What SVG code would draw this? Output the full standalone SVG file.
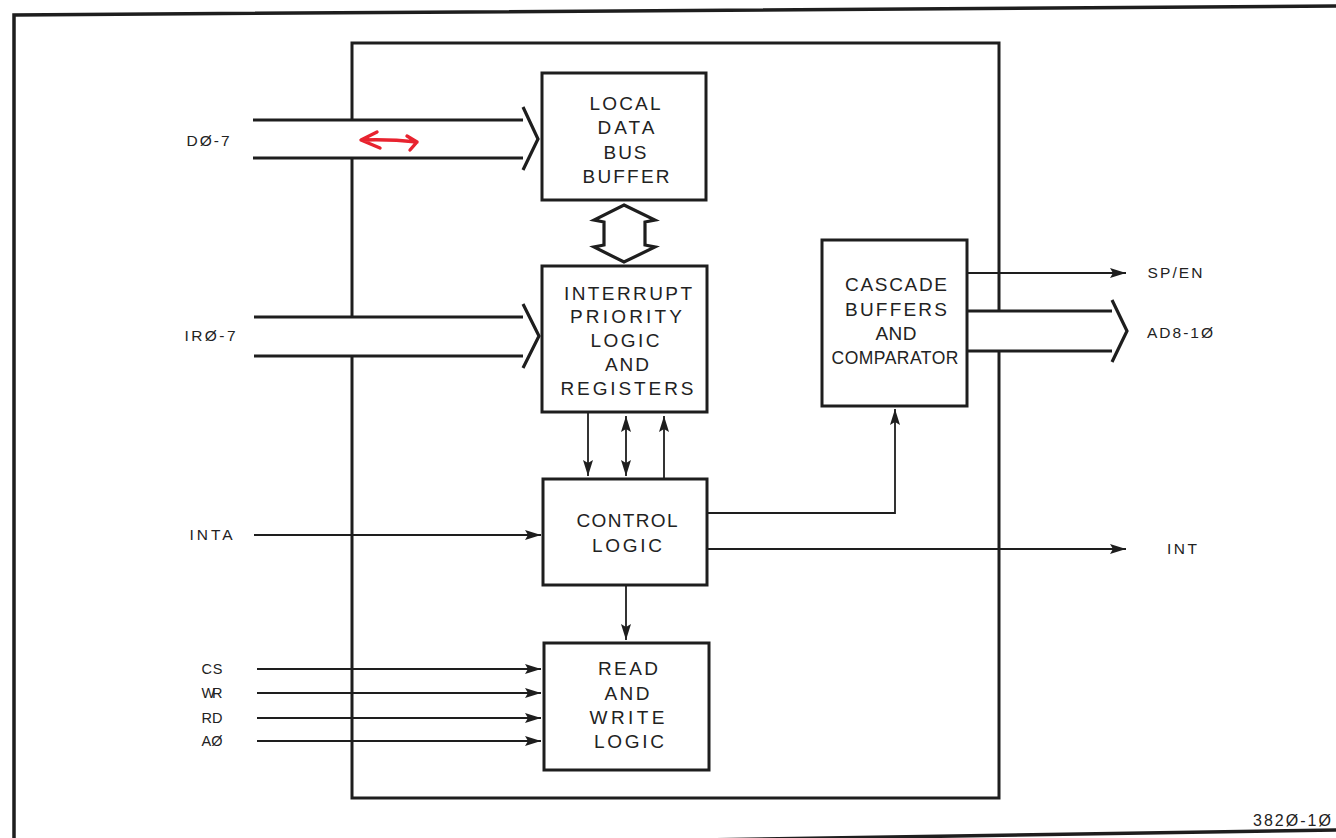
<svg xmlns="http://www.w3.org/2000/svg" width="1336" height="838" viewBox="0 0 1336 838">
<style>
.frame{fill:none;stroke:#1e1e1e;stroke-width:3.5}
.box{fill:#fff;stroke:#1e1e1e;stroke-width:3}
.edge{fill:none;stroke:#1e1e1e;stroke-width:3}
.bus{fill:none;stroke:#1e1e1e;stroke-width:3.2;stroke-linejoin:miter}
.sig{fill:none;stroke:#1e1e1e;stroke-width:1.8}
.t{font-family:"Liberation Sans",Arial,sans-serif;font-size:19px;fill:#222;text-anchor:middle}
.l{font-family:"Liberation Sans",Arial,sans-serif;font-size:15.5px;fill:#222;text-anchor:middle}
</style>
<defs>
<marker id="ah" viewBox="0 0 16 10" refX="16" refY="5" markerWidth="16" markerHeight="10" markerUnits="userSpaceOnUse" orient="auto-start-reverse">
<path d="M0,0 L16,5 L0,10 L3,5 Z" fill="#1e1e1e"/>
</marker>
</defs>
<rect width="1336" height="838" fill="#fff"/>
<g id="frame">
<path class="frame" d="M14,840 L14,15 L1340,6"/>
<path class="frame" d="M700,840 L1340,830"/>
</g>
<g id="chip">
<path class="edge" d="M352,120 L352,43 L999,43 L999,311"/>
<path class="edge" d="M999,351 L999,798 L352,798 L352,356"/>
<path class="edge" d="M352,317 L352,158"/>
</g>
<g id="connectors">
<path class="bus" d="M253,120 L523,120 M253,158 L523,158 M523,107 L538,139 L523,170"/>
<path class="bus" d="M254,317 L523,317 M254,356 L523,356 M523,304 L539,336 L523,368"/>
<path class="bus" style="fill:#fff" d="M624,205 L655,220 L645,222 L645,245 L655,247 L624,262 L594,247 L604,245 L604,222 L594,220 Z"/>
<line class="sig" x1="588" y1="412" x2="588" y2="476" marker-end="url(#ah)"/>
<line class="sig" x1="626" y1="416" x2="626" y2="476" marker-start="url(#ah)" marker-end="url(#ah)"/>
<line class="sig" x1="664" y1="479" x2="664" y2="416" marker-end="url(#ah)"/>
<line class="sig" x1="254" y1="535" x2="541" y2="535" marker-end="url(#ah)"/>
<path class="sig" d="M707,513 L895,513 L895,409" marker-end="url(#ah)"/>
<line class="sig" x1="707" y1="549" x2="1126" y2="549" marker-end="url(#ah)"/>
<line class="sig" x1="626" y1="585" x2="626" y2="640" marker-end="url(#ah)"/>
<line class="sig" x1="257" y1="669" x2="541" y2="669" marker-end="url(#ah)"/>
<line class="sig" x1="257" y1="693" x2="541" y2="693" marker-end="url(#ah)"/>
<line class="sig" x1="257" y1="718" x2="541" y2="718" marker-end="url(#ah)"/>
<line class="sig" x1="257" y1="741" x2="541" y2="741" marker-end="url(#ah)"/>
<line class="sig" x1="967" y1="273" x2="1126" y2="273" marker-end="url(#ah)"/>
<path class="bus" d="M968,311 L1112,311 M968,351 L1112,351 M1112,300 L1127,331 L1112,362"/>
<path d="M362,140 Q390,139 417,142 M377,132 L361,140 L380,148 M407,136 L417,142 L410,150" fill="none" stroke="#e8232f" stroke-width="3.4" stroke-linecap="round" stroke-linejoin="round"/>
</g>
<g id="ldbb">
<rect class="box" x="542" y="73" width="164" height="127"/>
<text class="t" x="625" y="110" textLength="71" lengthAdjust="spacing">LOCAL</text>
<text class="t" x="626" y="134" textLength="57" lengthAdjust="spacing">DATA</text>
<text class="t" x="625" y="159" textLength="43" lengthAdjust="spacing">BUS</text>
<text class="t" x="626" y="183" textLength="87" lengthAdjust="spacing">BUFFER</text>
</g>
<g id="iplr">
<rect class="box" x="542" y="266" width="165" height="146"/>
<text class="t" x="628" y="300" textLength="128" lengthAdjust="spacing">INTERRUPT</text>
<text class="t" x="626" y="323" textLength="112" lengthAdjust="spacing">PRIORITY</text>
<text class="t" x="625" y="347" textLength="69" lengthAdjust="spacing">LOGIC</text>
<text class="t" x="627" y="371" textLength="44" lengthAdjust="spacing">AND</text>
<text class="t" x="627" y="395" textLength="133" lengthAdjust="spacing">REGISTERS</text>
</g>
<g id="cascade">
<rect class="box" x="822" y="240" width="145" height="166"/>
<text class="t" x="896" y="291" textLength="102" lengthAdjust="spacing">CASCADE</text>
<text class="t" x="896" y="316" textLength="102" lengthAdjust="spacing">BUFFERS</text>
<text class="t" x="896" y="340" textLength="41" lengthAdjust="spacing">AND</text>
<text class="t" x="895" y="364" style="font-size:17.5px" textLength="127" lengthAdjust="spacing">COMPARATOR</text>
</g>
<g id="control">
<rect class="box" x="543" y="479" width="164" height="106"/>
<text class="t" x="627" y="527" textLength="101" lengthAdjust="spacing">CONTROL</text>
<text class="t" x="627" y="552" textLength="70" lengthAdjust="spacing">LOGIC</text>
</g>
<g id="rw">
<rect class="box" x="544" y="643" width="165" height="127"/>
<text class="t" x="628" y="675" textLength="60" lengthAdjust="spacing">READ</text>
<text class="t" x="627" y="700" textLength="45" lengthAdjust="spacing">AND</text>
<text class="t" x="627" y="724" textLength="75" lengthAdjust="spacing">WRITE</text>
<text class="t" x="629" y="748" textLength="70" lengthAdjust="spacing">LOGIC</text>
</g>
<g id="labels">
<text class="l" x="208" y="146" textLength="43" lengthAdjust="spacing">DØ-7</text>
<text class="l" x="210" y="341" textLength="51" lengthAdjust="spacing">IRØ-7</text>
<text class="l" x="211" y="540" textLength="43" lengthAdjust="spacing">INTA</text>
<text class="l" x="212" y="674" style="font-size:14.5px" textLength="21" lengthAdjust="spacing">CS</text>
<text class="l" x="212" y="698" style="font-size:14.5px" textLength="21" lengthAdjust="spacing">WR</text>
<text class="l" x="212" y="723" style="font-size:14.5px" textLength="21" lengthAdjust="spacing">RD</text>
<text class="l" x="212" y="746" style="font-size:14.5px" textLength="21" lengthAdjust="spacing">AØ</text>
<text class="l" x="1175" y="278" textLength="55" lengthAdjust="spacing">SP/EN</text>
<text class="l" x="1180" y="338" textLength="66" lengthAdjust="spacing">AD8-1Ø</text>
<text class="l" x="1182" y="554" textLength="30" lengthAdjust="spacing">INT</text>
<text class="l" x="1292" y="826" style="font-size:16px" textLength="78" lengthAdjust="spacing">382Ø-1Ø</text>
</g>
</svg>
